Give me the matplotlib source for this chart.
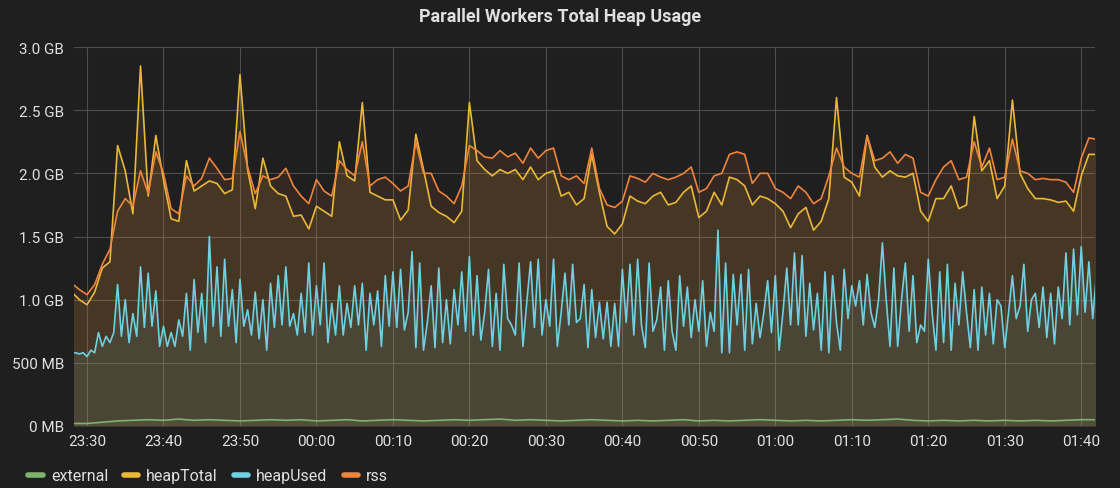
import numpy as np
import matplotlib
matplotlib.use("Agg")
import matplotlib.pyplot as plt
from matplotlib.lines import Line2D
from matplotlib.ticker import FuncFormatter

plt.rcParams['font.family'] = ['Roboto', 'DejaVu Sans']

# x axis: minutes after 23:30
tick_labels = ["23:30", "23:40", "23:50", "00:00", "00:10", "00:20", "00:30",
               "00:40", "00:50", "01:00", "01:10", "01:20", "01:30", "01:40"]
start_min = -2

# heapTotal / rss, one sample per minute (GB)
heap_total = [1.06, 1.0, 0.96, 1.06, 1.25, 1.3, 2.22, 2.02, 1.68, 2.85,
              1.82, 2.3, 1.95, 1.64, 1.62, 2.1, 1.86, 1.9, 1.94, 1.92,
              1.84, 1.87, 2.78, 2.03, 1.72, 2.12, 1.9, 1.84, 1.82, 1.66,
              1.67, 1.56, 1.74, 1.7, 1.66, 2.25, 1.98, 1.94, 2.56, 1.85,
              1.82, 1.79, 1.79, 1.63, 1.71, 2.31, 2.03, 1.74, 1.69, 1.66,
              1.61, 1.7, 2.56, 2.1, 2.03, 1.98, 2.03, 2.0, 2.03, 1.95,
              2.05, 1.95, 2.0, 2.02, 1.82, 1.85, 1.75, 1.8, 2.15, 1.85,
              1.58, 1.52, 1.6, 1.82, 1.78, 1.76, 1.82, 1.85, 1.75, 1.77,
              1.85, 1.9, 1.65, 1.7, 1.85, 1.75, 1.97, 1.95, 1.9, 1.75,
              1.82, 1.8, 1.76, 1.7, 1.57, 1.68, 1.73, 1.55, 1.62, 1.8,
              2.6, 1.97, 1.93, 1.82, 2.3, 2.05, 1.97, 2.02, 1.98, 1.97,
              2.0, 1.7, 1.62, 1.8, 1.8, 1.9, 1.72, 1.75, 2.45, 2.02,
              2.1, 1.8, 1.9, 2.58, 2.0, 1.88, 1.8, 1.8, 1.79, 1.77,
              1.78, 1.7, 1.98, 2.15, 2.15]
rss = [1.13, 1.08, 1.04, 1.12, 1.28, 1.4, 1.7, 1.8, 1.74, 2.02,
       1.84, 2.17, 2.0, 1.72, 1.68, 1.98, 1.9, 1.96, 2.12, 2.04,
       1.95, 1.96, 2.33, 2.05, 1.84, 1.98, 1.95, 1.97, 2.04, 1.9,
       1.82, 1.76, 1.95, 1.86, 1.82, 2.1, 2.03, 1.98, 2.25, 1.9,
       1.95, 1.97, 1.92, 1.86, 1.9, 2.25, 2.0, 2.0, 1.86, 1.82,
       1.76, 1.9, 2.22, 2.18, 2.13, 2.12, 2.18, 2.13, 2.16, 2.08,
       2.2, 2.12, 2.18, 2.2, 1.98, 1.95, 1.98, 1.92, 2.2, 1.88,
       1.75, 1.73, 1.78, 1.98, 1.96, 1.93, 2.0, 1.97, 1.95, 1.97,
       2.0, 2.05, 1.85, 1.88, 1.98, 2.0, 2.15, 2.17, 2.15, 1.92,
       2.0, 2.0, 1.88, 1.85, 1.8, 1.9, 1.85, 1.76, 1.8, 1.98,
       2.2, 2.05, 2.0, 1.97, 2.3, 2.1, 2.12, 2.17, 2.08, 2.15,
       2.12, 1.85, 1.82, 1.95, 2.05, 2.1, 1.95, 1.97, 2.25, 2.05,
       2.2, 1.95, 1.97, 2.27, 2.02, 2.0, 1.95, 1.96, 1.95, 1.95,
       1.93, 1.85, 2.12, 2.28, 2.27]

# heapUsed, one sample every 30 s (GB)
heap_used = [0.58, 0.58, 0.57, 0.58, 0.55, 0.6, 0.58, 0.74, 0.63, 0.71,
             0.66, 0.74, 1.12, 0.71, 1.0, 0.66, 0.89, 0.71, 1.26, 0.78,
             1.21, 0.79, 1.07, 0.63, 0.79, 0.63, 0.74, 0.63, 0.84, 0.71,
             1.05, 0.6, 1.16, 0.74, 1.05, 0.66, 1.5, 0.79, 1.26,
             0.71, 1.32, 0.79, 1.08, 0.66, 1.16, 0.79, 0.92, 0.72, 1.06,
             0.69, 1.0, 0.6, 1.13, 0.78, 1.19, 0.8, 1.26, 0.79, 0.89,
             0.72, 1.05, 0.74, 1.29, 0.72, 1.11, 0.8, 1.29, 0.66, 0.97,
             0.72, 1.11, 0.72, 0.97, 0.78, 1.11, 0.8, 1.13,
             0.6, 1.05, 0.8, 1.07, 0.63, 1.19, 0.79, 1.22, 0.78, 1.24,
             0.76, 0.9, 1.38, 0.62, 1.29, 0.6, 0.82, 1.11, 0.62, 1.25,
             0.66, 1.0, 0.65, 1.08, 0.8, 1.22, 0.75, 1.34, 0.72, 1.19,
             0.68, 0.9, 1.24, 0.63, 1.05, 0.6, 1.28, 0.85,
             0.8, 0.72, 1.29, 0.63, 0.98, 1.3, 0.78, 1.32, 0.72, 1.0,
             0.79, 1.32, 0.63, 0.9, 1.21, 0.8, 1.28, 0.82, 0.85, 1.12,
             0.62, 1.08, 0.7, 0.98, 0.69, 0.98, 0.63, 0.97, 0.63, 1.24,
             0.82, 1.28, 0.72, 1.32, 0.8, 0.62, 1.29, 0.75,
             0.84, 1.1, 0.6, 1.15, 0.75, 0.6, 1.19, 0.79, 1.1, 0.7,
             1.0, 0.75, 1.15, 0.63, 0.9, 0.75, 1.55, 0.58, 1.29, 0.58,
             1.2, 0.8, 1.2, 0.6, 1.24, 0.65, 0.97, 0.7, 0.9, 1.15,
             0.74, 1.19, 0.6, 0.9, 1.25, 0.8, 1.37, 0.8,
             1.35, 0.71, 1.13, 0.76, 1.05, 0.6, 1.22, 0.58, 1.19, 0.82,
             0.6, 1.24, 0.85, 1.11, 0.95, 1.15, 0.8, 1.2, 0.9, 0.78,
             1.0, 1.45, 1.0, 0.63, 1.25, 0.63, 1.0, 1.29, 0.75, 1.19,
             0.66, 0.8, 0.75, 1.32, 0.9, 0.6, 1.22, 0.66,
             1.28, 0.6, 1.13, 0.8, 1.22, 0.9, 0.62, 1.08, 0.6, 1.1,
             0.72, 1.05, 0.65, 1.0, 0.95, 0.62, 0.9, 1.19, 0.85, 0.95,
             1.28, 0.75, 1.0, 1.05, 0.78, 1.1, 0.7, 1.05, 0.65, 1.1,
             0.85, 1.37, 0.8, 1.4, 0.88, 1.42, 0.9, 1.3, 0.85, 1.2]

# external, one sample every 2 min (GB)
external = [0.02, 0.02, 0.03, 0.04, 0.045, 0.05, 0.045, 0.055, 0.045, 0.05,
            0.045, 0.04, 0.045, 0.05, 0.045, 0.05, 0.04, 0.045, 0.05, 0.04,
            0.045, 0.05, 0.045, 0.04, 0.045, 0.05, 0.045, 0.05, 0.055, 0.045,
            0.05, 0.045, 0.04, 0.045, 0.05, 0.045, 0.04, 0.045, 0.04, 0.045,
            0.05, 0.04, 0.045, 0.04, 0.045, 0.05, 0.045, 0.04, 0.045, 0.04,
            0.045, 0.05, 0.045, 0.05, 0.055, 0.045, 0.04, 0.045, 0.04, 0.045,
            0.04, 0.045, 0.04, 0.045, 0.04, 0.045, 0.05, 0.05]

t_main = start_min + np.arange(len(heap_total))
t_used = start_min + 0.5 * np.arange(len(heap_used))
t_ext = start_min + 2 * np.arange(len(external))

bg = '#1f1f20'
txt = '#e0e0e2'
colors = {'external': '#7eb26d', 'heapTotal': '#eab839',
          'heapUsed': '#6ed0e0', 'rss': '#ef843c'}

fig = plt.figure(figsize=(11.2, 4.89), dpi=100, facecolor=bg)
ax = fig.add_axes([74 / 1120, 1 - 427 / 489, (1095 - 74) / 1120, 379 / 489])
ax.set_facecolor(bg)

series = [('external', t_ext, external), ('heapTotal', t_main, heap_total),
          ('heapUsed', t_used, heap_used), ('rss', t_main, rss)]
for name, tt, vals in series:
    ax.fill_between(tt, 0, vals, color=colors[name], alpha=0.1, lw=0)
    ax.plot(tt, vals, color=colors[name], lw=1.2)

ax.set_xlim(-1.7, 131.8)
ax.set_ylim(0, 3.0)
ax.set_xticks(np.arange(len(tick_labels)) * 10)
ax.set_xticklabels(tick_labels)
ax.set_yticks(np.arange(0, 3.01, 0.5))


def fmt_bytes(v, pos):
    if v < 1:
        return f"{v * 1000:.0f} MB"
    return f"{v:.1f} GB"


ax.yaxis.set_major_formatter(FuncFormatter(fmt_bytes))
ax.grid(True, color='#4e4e4f', lw=0.8)
ax.set_axisbelow(True)
for s in ax.spines.values():
    s.set_visible(False)
ax.tick_params(length=0, colors=txt, labelsize=11)
ax.tick_params(axis='y', pad=7)
ax.tick_params(axis='x', pad=6)

fig.text(0.5, 1 - 17 / 489, "Parallel Workers Total Heap Usage", ha='center',
         va='center', color=txt, fontsize=13, fontweight='bold')

handles = [Line2D([], [], color=colors[n], lw=4, solid_capstyle='round')
           for n in colors]
fig.legend(handles, list(colors), loc='center left',
           bbox_to_anchor=(22 / 1120, 1 - 477 / 489), ncol=4, frameon=False,
           fontsize=11.5, labelcolor=txt, handlelength=0.9,
           handletextpad=0.5, columnspacing=1.0, borderaxespad=0)

fig.savefig("out.png", dpi=100, facecolor=bg)
